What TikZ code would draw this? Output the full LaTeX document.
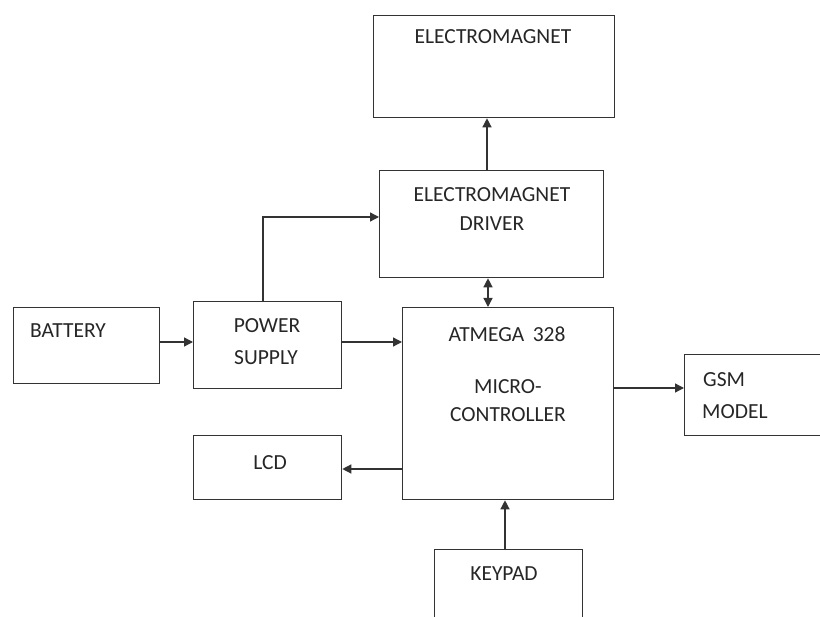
\documentclass[tikz,border=0pt]{standalone}
\usepackage{fontspec}
\setmainfont{Carlito}
\usetikzlibrary{arrows.meta}
\definecolor{ln}{HTML}{333333}
\tikzset{
  blk/.style={draw=ln, line width=1.3pt, anchor=north west, inner sep=0pt},
  txt/.style={font=\fontsize{21.5}{25}\selectfont, inner sep=0pt, text=black!85},
  arr/.style={draw=ln, line width=1.3pt, -{Triangle[length=9pt,width=9pt]}},
  arrtwo/.style={draw=ln, line width=1.3pt, {Triangle[length=9pt,width=9pt]}-{Triangle[length=9pt,width=9pt]}}
}
\begin{document}
\begin{tikzpicture}[x=1pt,y=-1pt]
\useasboundingbox (0,0) rectangle (820,617);
% boxes
\node[blk, minimum width=241pt, minimum height=102pt] (em) at (373,15) {};
\node[blk, minimum width=224pt, minimum height=107pt] (drv) at (379,170) {};
\node[blk, minimum width=146pt, minimum height=76pt] (bat) at (13,307) {};
\node[blk, minimum width=148pt, minimum height=87pt] (ps) at (193,301) {};
\node[blk, minimum width=211pt, minimum height=192pt] (mc) at (402,307) {};
\node[blk, minimum width=160pt, minimum height=81pt] (gsm) at (684,354) {};
\node[blk, minimum width=148pt, minimum height=64pt] (lcd) at (193,435) {};
\node[blk, minimum width=148pt, minimum height=100pt] (kp) at (434,549) {};
% texts
\node[txt] (emt) at (493,37) {ELECTROMAGNET};
\node[txt] (drvt1) at (492,195) {ELECTROMAGNET};
\node[txt] (drvt2) at (492,224) {DRIVER};
\node[txt] (batt) at (68,331) {BATTERY};
\node[txt] (pst1) at (267,326) {POWER};
\node[txt] (pst2) at (266,358) {SUPPLY};
\node[txt] (mct1) at (507,334) {ATMEGA\, 328};
\node[txt] (mct2) at (508,387) {MICRO-};
\node[txt] (mct3) at (508,415) {CONTROLLER};
\node[txt, anchor=west] (gsmt1) at (703,380) {GSM};
\node[txt, anchor=west] (gsmt2) at (702,412) {MODEL};
\node[txt] (lcdt) at (270,463) {LCD};
\node[txt] (kpt) at (504,574) {KEYPAD};
% connectors
\draw[arr] (bat.east |- 0,342) -- (ps.west |- 0,342);
\draw[arr] (ps.east |- 0,342) -- (mc.west |- 0,342);
\draw[arr] (ps.north -| 263,0) |- (drv.west |- 0,217);
\draw[arrtwo] (drv.south -| 488,0) -- (mc.north -| 488,0);
\draw[arr] (drv.north -| 487,0) -- (em.south -| 487,0);
\draw[arr] (mc.east |- 0,388) -- (gsm.west |- 0,388);
\draw[arr] (mc.west |- 0,469) -- (lcd.east |- 0,469);
\draw[arr] (kp.north -| 505,0) -- (mc.south -| 505,0);
\end{tikzpicture}
\end{document}
